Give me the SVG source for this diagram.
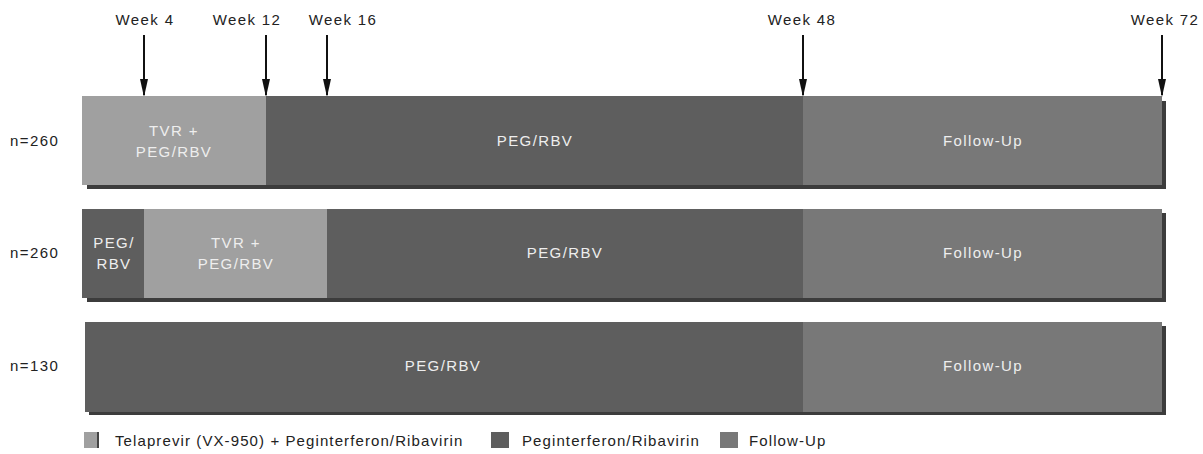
<svg xmlns="http://www.w3.org/2000/svg" width="1203" height="454" viewBox="0 0 1203 454">
<defs>
<marker id="ah" viewBox="0 0 18 8" refX="16" refY="4" markerWidth="18" markerHeight="8" markerUnits="userSpaceOnUse" orient="auto">
<path d="M0,0 L18,4 L0,8 Z" fill="#111"/>
</marker>
<style>
text{font-family:"Liberation Sans",Arial,sans-serif;font-size:15px;letter-spacing:1.4px}
.lbl{fill:#222;text-anchor:middle}
.in{fill:#eeeeee;text-anchor:middle}
.side{fill:#222}
.leg{fill:#222;letter-spacing:1.1px}
.tvr{fill:#a0a0a0}
.peg{fill:#5e5e5e}
.fu{fill:#787878}
.sh{fill:#3c3c3c}
.arr{stroke:#111;stroke-width:2;fill:none}
</style>
</defs>
<rect width="1203" height="454" fill="#ffffff"/>

<g id="week-labels">
<text class="lbl" x="145" y="25">Week 4</text>
<text class="lbl" x="247" y="25">Week 12</text>
<text class="lbl" x="343" y="25">Week 16</text>
<text class="lbl" x="802" y="25">Week 48</text>
<text class="lbl" x="1165" y="25">Week 72</text>
</g>

<g id="connectors">
<line class="arr" x1="144" y1="35" x2="144" y2="95" marker-end="url(#ah)"/>
<line class="arr" x1="266" y1="35" x2="266" y2="95" marker-end="url(#ah)"/>
<line class="arr" x1="327" y1="35" x2="327" y2="95" marker-end="url(#ah)"/>
<line class="arr" x1="803" y1="35" x2="803" y2="95" marker-end="url(#ah)"/>
<line class="arr" x1="1162" y1="35" x2="1162" y2="95" marker-end="url(#ah)"/>
</g>

<g id="row1">
<text class="side" x="10" y="146">n=260</text>
<rect class="sh" x="87" y="101" width="1079" height="88"/>
<rect class="tvr" x="82" y="96" width="184" height="89"/>
<rect class="peg" x="266" y="96" width="537" height="89"/>
<rect class="fu" x="803" y="96" width="359" height="89"/>
<text class="in" x="174" y="136">TVR +</text>
<text class="in" x="174" y="157">PEG/RBV</text>
<text class="in" x="535" y="146">PEG/RBV</text>
<text class="in" x="983" y="146">Follow-Up</text>
</g>

<g id="row2">
<text class="side" x="10" y="258">n=260</text>
<rect class="sh" x="87" y="213" width="1079" height="89"/>
<rect class="peg" x="82" y="209" width="62" height="89"/>
<rect class="tvr" x="144" y="209" width="183" height="89"/>
<rect class="peg" x="327" y="209" width="476" height="89"/>
<rect class="fu" x="803" y="209" width="359" height="89"/>
<text class="in" x="114" y="248">PEG/</text>
<text class="in" x="114" y="269">RBV</text>
<text class="in" x="236" y="248">TVR +</text>
<text class="in" x="236" y="269">PEG/RBV</text>
<text class="in" x="565" y="258">PEG/RBV</text>
<text class="in" x="983" y="258">Follow-Up</text>
</g>

<g id="row3">
<text class="side" x="10" y="371">n=130</text>
<rect class="sh" x="89" y="326" width="1077" height="89"/>
<rect class="peg" x="85" y="322" width="718" height="90"/>
<rect class="fu" x="803" y="322" width="359" height="90"/>
<text class="in" x="443" y="371">PEG/RBV</text>
<text class="in" x="983" y="371">Follow-Up</text>
</g>

<g id="legend">
<rect class="tvr" x="84" y="432" width="14" height="16"/>
<rect x="97" y="432" width="2" height="16" fill="#444"/>
<text class="leg" x="115" y="446">Telaprevir (VX-950) + Peginterferon/Ribavirin</text>
<rect class="peg" x="491" y="432" width="18" height="16"/>
<text class="leg" x="522" y="446">Peginterferon/Ribavirin</text>
<rect class="fu" x="720" y="432" width="18" height="16"/>
<text class="leg" x="749" y="446">Follow-Up</text>
</g>
</svg>
